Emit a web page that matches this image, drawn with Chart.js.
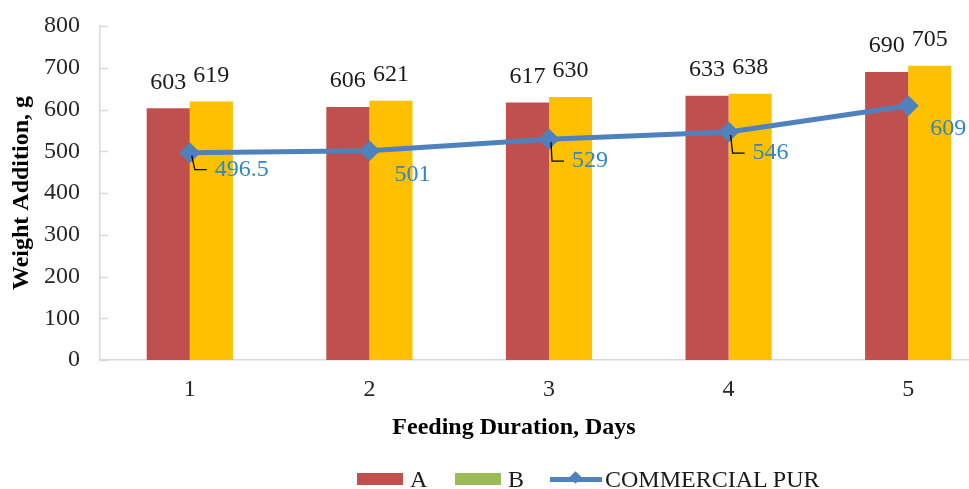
<!DOCTYPE html>
<html>
<head>
<meta charset="utf-8">
<script src="https://cdn.jsdelivr.net/npm/chart.js@4.4.1/dist/chart.umd.min.js"></script>
<style>
  html, body { margin: 0; padding: 0; overflow: hidden; background: #fff; }
  #wrap { position: relative; width: 969px; height: 489px; overflow: hidden; }
  #legend { position: absolute; top: 464px; left: 0; font: 24px "Liberation Serif", "Times New Roman", serif; color: #1a1a1a; }
  .item { position: absolute; top: 0; white-space: nowrap; line-height: 30px; }
  .box { display: inline-block; width: 46px; height: 12px; vertical-align: middle; margin-right: 7px; position: relative; top: -2px; }
  .ln { display: inline-block; width: 52px; height: 5px; background: #4f81bd; vertical-align: middle; margin-right: 3px; position: relative; top: -2px; }
  .ln::after { content: ""; position: absolute; left: 21px; top: -3.5px; width: 9px; height: 9px; background: #4f81bd; transform: rotate(45deg); }
</style>
</head>
<body>
<div id="wrap">
  <canvas id="chart" width="1010" height="489"></canvas>
  <div id="legend">
    <span class="item" style="left:357px"><span class="box" style="background:#c0504d"></span>A</span>
    <span class="item" style="left:455px"><span class="box" style="background:#9bbb59"></span>B</span>
    <span class="item" style="left:550px"><span class="ln"></span>COMMERCIAL PUR</span>
  </div>
</div>
<script>
const days = ['1', '2', '3', '4', '5'];
const seriesA = [603, 606, 617, 633, 690];
const seriesB = [619, 621, 630, 638, 705];
const commercial = [496.5, 501, 529, 546, 609];
const yTicks = [0, 100, 200, 300, 400, 500, 600, 700, 800];

const serif = '"Liberation Serif", "Times New Roman", serif';

// label placement for the line values (offset from the point, leader line or not)
const lineLabelPos = [
  { dx: 52, dy: 17, leader: true },
  { dx: 43, dy: 24, leader: false },
  { dx: 41, dy: 22, leader: true },
  { dx: 42, dy: 21, leader: true },
  { dx: 40, dy: 23, leader: false }
];

const extras = {
  id: 'extras',
  afterDatasetsDraw(chart) {
    const ctx = chart.ctx;
    const y = chart.scales.y;
    ctx.save();

    // small inside tick marks on the value axis
    ctx.strokeStyle = '#d9d9d9';
    ctx.lineWidth = 1.5;
    yTicks.forEach(v => {
      const py = Math.round(y.getPixelForValue(v)) + 0.5;
      ctx.beginPath();
      ctx.moveTo(y.right, py);
      ctx.lineTo(y.right + 8, py);
      ctx.stroke();
    });

    // bar value labels
    ctx.font = '24px ' + serif;
    ctx.fillStyle = '#1a1a1a';
    ctx.textAlign = 'center';
    ctx.textBaseline = 'middle';
    [0, 1].forEach(di => {
      const meta = chart.getDatasetMeta(di);
      meta.data.forEach((bar, i) => {
        ctx.fillText(String(chart.data.datasets[di].data[i]), bar.x, bar.y - 26);
      });
    });

    // line value labels with leader lines
    const lineMeta = chart.getDatasetMeta(2);
    lineMeta.data.forEach((pt, i) => {
      const pos = lineLabelPos[i];
      const txt = String(commercial[i]);
      const cx = pt.x + pos.dx, cy = pt.y + pos.dy;
      const w = ctx.measureText(txt).width;
      const left = cx - w / 2;
      if (pos.leader) {
        ctx.strokeStyle = '#000';
        ctx.lineWidth = 1.3;
        ctx.beginPath();
        ctx.moveTo(pt.x + 2, pt.y + 3);
        ctx.lineTo(left - 20, cy);
        ctx.lineTo(left - 8, cy);
        ctx.stroke();
      }
      ctx.fillStyle = '#2f86c9';
      ctx.fillText(txt, cx, cy);
    });

    // axis titles
    ctx.fillStyle = '#000';
    ctx.font = 'bold 24px ' + serif;
    ctx.fillText('Feeding Duration, Days', 514, 428);
    ctx.translate(22, (chart.chartArea.top + chart.chartArea.bottom) / 2);
    ctx.rotate(-Math.PI / 2);
    ctx.fillText('Weight Addition, g', 0, 0);
    ctx.restore();
  }
};

new Chart(document.getElementById('chart'), {
  type: 'bar',
  data: {
    labels: days,
    datasets: [
      { label: 'A', data: seriesA, backgroundColor: '#c0504d', order: 2 },
      { label: 'B', data: seriesB, backgroundColor: '#ffc000', order: 2 },
      {
        type: 'line', label: 'COMMERCIAL PUR', data: commercial, order: 0,
        borderColor: '#4f81bd', backgroundColor: '#4f81bd', borderWidth: 5,
        pointStyle: 'rectRot', pointRadius: 7, pointHoverRadius: 7, tension: 0
      }
    ]
  },
  options: {
    responsive: false,
    animation: false,
    layout: { padding: { top: 26, right: 10, left: 0, bottom: 0 } },
    plugins: { legend: { display: false }, tooltip: { enabled: false } },
    datasets: { bar: { categoryPercentage: 0.48, barPercentage: 1 } },
    scales: {
      x: {
        grid: { display: false, drawTicks: false },
        border: { color: '#d9d9d9', width: 1.5 },
        ticks: { font: { family: serif, size: 24 }, color: '#262626', padding: 15 },
        afterFit(s) { s.height = 129; s.paddingLeft = 0; s.paddingRight = 0; }
      },
      y: {
        min: 0, max: 800,
        grid: { display: false, drawTicks: false },
        border: { color: '#d9d9d9', width: 1.5 },
        afterBuildTicks(s) { s.ticks = yTicks.map(v => ({ value: v })); },
        ticks: { font: { family: serif, size: 24 }, color: '#262626', padding: 20 },
        afterFit(s) { s.width = 100; s.paddingTop = 0; s.paddingBottom = 0; }
      }
    }
  },
  plugins: [extras]
});
</script>
</body>
</html>
